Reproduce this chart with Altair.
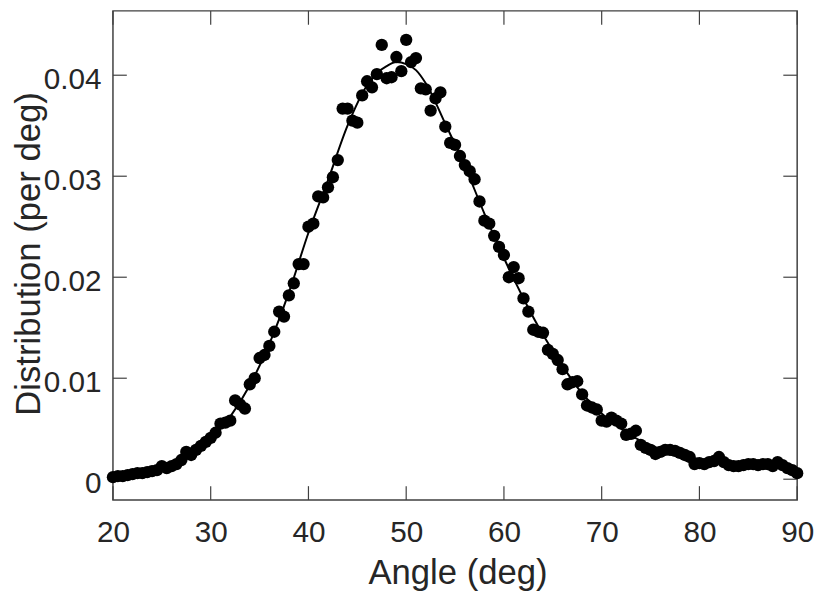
import altair as alt
import pandas as pd

# Measured distribution (per deg), angles 20..90 step 0.5
angles = [20 + 0.5 * i for i in range(141)]
dist = [
    0.0002, 0.0003, 0.0003, 0.0004, 0.0005, 0.0006, 0.0006, 0.0007, 0.0008, 0.0009,  # 20-24.5
    0.0013, 0.0011, 0.0013, 0.0015, 0.0019, 0.0027, 0.0024, 0.0029, 0.0033, 0.0037,  # 25-29.5
    0.0041, 0.0046, 0.0055, 0.0056, 0.0058, 0.0078, 0.0074, 0.0070, 0.0094, 0.0100,  # 30-34.5
    0.0120, 0.0123, 0.0132, 0.0146, 0.0166, 0.0161, 0.0182, 0.0194, 0.0213, 0.0213,  # 35-39.5
    0.0250, 0.0253, 0.0280, 0.0279, 0.0289, 0.0299, 0.0316, 0.0367, 0.0367, 0.0355,  # 40-44.5
    0.0353, 0.0380, 0.0394, 0.0388, 0.0401, 0.0430, 0.0397, 0.0398, 0.0418, 0.0404,  # 45-49.5
    0.0435, 0.0413, 0.0417, 0.0387, 0.0386, 0.0365, 0.0377, 0.0383, 0.0349, 0.0333,  # 50-54.5
    0.0331, 0.0320, 0.0311, 0.0305, 0.0297, 0.0275, 0.0256, 0.0253, 0.0241, 0.0230,  # 55-59.5
    0.0222, 0.0200, 0.0210, 0.0199, 0.0179, 0.0166, 0.0148, 0.0146, 0.0145, 0.0128,  # 60-64.5
    0.0124, 0.0118, 0.0109, 0.0094, 0.0096, 0.0097, 0.0084, 0.0073, 0.0071, 0.0069,  # 65-69.5
    0.0058, 0.0057, 0.0061, 0.0058, 0.0055, 0.0044, 0.0045, 0.0048, 0.0034, 0.0031,  # 70-74.5
    0.0029, 0.0025, 0.0027, 0.0029, 0.0029, 0.0028, 0.0026, 0.0024, 0.0022, 0.0015,  # 75-79.5
    0.0016, 0.0015, 0.0017, 0.0018, 0.0022, 0.0017, 0.0014, 0.0013, 0.0013, 0.0014,  # 80-84.5
    0.0015, 0.0015, 0.0014, 0.0015, 0.0015, 0.0013, 0.0017, 0.0014, 0.0011, 0.0009,  # 85-89.5
    0.0006,                                                                          # 90
]

# Fitted curve
fit_angle = [20, 22, 24, 26, 28, 30, 32, 34, 36, 38, 40, 42, 44, 46, 47, 48, 49, 50,
             51, 52, 54, 56, 58, 60, 62, 64, 66, 68, 70, 72, 74, 76, 78, 80, 82, 84,
             86, 88, 90]
fit_val = [0.0002, 0.0004, 0.0008, 0.0014, 0.0024, 0.0040, 0.0062, 0.0093, 0.0134,
           0.0185, 0.0244, 0.0296, 0.0350, 0.0390, 0.0402, 0.0409, 0.0413, 0.0411,
           0.0405, 0.0392, 0.0352, 0.0310, 0.0263, 0.0219, 0.0179, 0.0143, 0.0112,
           0.0085, 0.0065, 0.0050, 0.0038, 0.0030, 0.0024, 0.0020, 0.0017, 0.0015,
           0.0013, 0.0012, 0.0010]

x_ticks = [20, 30, 40, 50, 60, 70, 80, 90]
y_ticks = [0, 0.01, 0.02, 0.03, 0.04]

W, H = 691, 494
TXT = "#262626"
AX = "#404040"
FONT = "Liberation Sans"
TICK = 14

pts = pd.DataFrame({"angle": angles, "dist": dist})
fit = pd.DataFrame({"angle": fit_angle, "dist": fit_val})
xt = pd.DataFrame({"v": x_ticks})
yt = pd.DataFrame({"v": y_ticks})

xscale = alt.Scale(domain=[20, 90], nice=False, zero=False)
yscale = alt.Scale(domain=[-0.00206, 0.04637], nice=False, zero=False)

xaxis = alt.Axis(
    title="Angle (deg)", values=x_ticks, format="d", grid=False, domain=False,
    ticks=False, tickSize=0, labelPadding=18, labelFontSize=30, labelFont=FONT,
    labelColor=TXT, titleFontSize=35, titleFont=FONT, titleColor=TXT,
    titleFontWeight="normal", titleBaseline="alphabetic", titleAlign="center",
    titleX=348, titleY=84, labelFlush=False,
)
yaxis = alt.Axis(
    title="Distribution (per deg)", values=y_ticks, grid=False, domain=False,
    ticks=False, tickSize=0, labelPadding=12, labelFontSize=30, labelFont=FONT,
    labelColor=TXT, labelBaseline="middle", labelOffset=4,
    labelExpr="datum.value == 0 ? '0' : format(datum.value, '.2f')",
    titleFontSize=35, titleFont=FONT, titleColor=TXT, titleFontWeight="normal",
    titleAngle=270, titleBaseline="alphabetic", titleAlign="center",
    titleX=-74, titleY=245, labelFlush=False,
)

points = alt.Chart(pts).mark_circle(size=155, color="black", opacity=1).encode(
    x=alt.X("angle:Q", scale=xscale, axis=xaxis),
    y=alt.Y("dist:Q", scale=yscale, axis=yaxis),
)

line = alt.Chart(fit).mark_line(color="black", strokeWidth=2, interpolate="monotone").encode(
    x=alt.X("angle:Q", scale=xscale),
    y=alt.Y("dist:Q", scale=yscale),
)

tick_x_bottom = alt.Chart(xt).mark_rule(color=AX, strokeWidth=1.2).encode(
    x=alt.X("v:Q", scale=xscale), y=alt.value(H), y2=alt.value(H - TICK))
tick_x_top = alt.Chart(xt).mark_rule(color=AX, strokeWidth=1.2).encode(
    x=alt.X("v:Q", scale=xscale), y=alt.value(0), y2=alt.value(TICK))
tick_y_left = alt.Chart(yt).mark_rule(color=AX, strokeWidth=1.2).encode(
    y=alt.Y("v:Q", scale=yscale), x=alt.value(0), x2=alt.value(TICK))
tick_y_right = alt.Chart(yt).mark_rule(color=AX, strokeWidth=1.2).encode(
    y=alt.Y("v:Q", scale=yscale), x=alt.value(W), x2=alt.value(W - TICK))

chart = alt.layer(
    tick_x_bottom, tick_x_top, tick_y_left, tick_y_right, line, points
).properties(
    width=W, height=H,
    autosize=alt.AutoSizeParams(type="none"),
    padding={"left": 106, "top": 0, "right": 17, "bottom": 92},
    background="white",
).configure_view(
    stroke=AX, strokeWidth=1.5
)

chart.save("out.html", embed_options={"renderer": "svg", "actions": False})
